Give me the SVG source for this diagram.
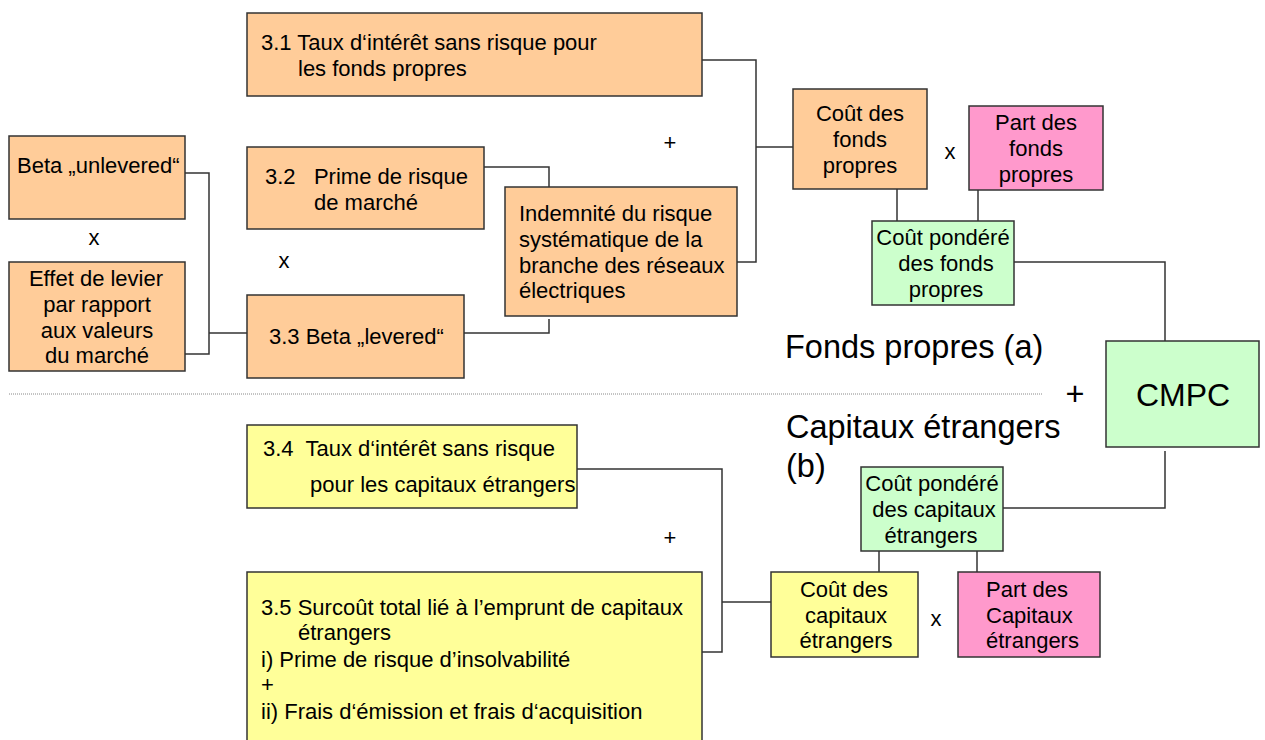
<svg xmlns="http://www.w3.org/2000/svg" width="1265" height="740" viewBox="0 0 1265 740">
<style>
  .b{stroke:#333;stroke-width:1.5}
  .or{fill:#FFCC99}.pk{fill:#FF99CC}.gr{fill:#CCFFCC}.ye{fill:#FFFF99}
  text{font-family:"Liberation Sans",Arial,sans-serif;font-size:22px;fill:#000}
  .c{text-anchor:middle}
  .big{font-size:32.5px}
  .cmpc{font-size:32px}
  .ln{fill:none;stroke:#333;stroke-width:1.5}
</style>
<rect width="1265" height="740" fill="#fff"/>
<g id="connectors" class="ln">
  <polyline points="185,173 209,173 209,354 185,354"/>
  <line x1="209" y1="333" x2="247" y2="333"/>
  <polyline points="484,167 549,167 549,187"/>
  <polyline points="464,333 549,333 549,319"/>
  <polyline points="702,60 756,60 756,262 737,262"/>
  <line x1="756" y1="147" x2="793" y2="147"/>
  <line x1="897" y1="189" x2="897" y2="221"/>
  <line x1="978" y1="190" x2="978" y2="221"/>
  <polyline points="1014,262 1165,262 1165,341"/>
  <polyline points="1165,451 1165,508 1003,508"/>
  <line x1="879" y1="551" x2="879" y2="572"/>
  <line x1="977" y1="551" x2="977" y2="572"/>
  <polyline points="577,469 722,469 722,652 702,652"/>
  <line x1="722" y1="602" x2="771" y2="602"/>
  <line x1="9" y1="394" x2="1043" y2="394" stroke="#888" stroke-width="1" stroke-dasharray="1 1"/>
</g>
<g id="n31"><rect class="b or" x="247" y="13" width="455" height="83"/>
  <text x="261" y="50">3.1 Taux d‘intérêt sans risque pour</text>
  <text x="298" y="76">les fonds propres</text></g>
<g id="beta-u"><rect class="b or" x="9" y="136" width="176" height="83"/>
  <text x="17" y="173">Beta „unlevered“</text></g>
<g id="levier"><rect class="b or" x="9" y="262" width="176" height="109"/>
  <text class="c" x="96" y="286">Effet de levier</text>
  <text class="c" x="97" y="312">par rapport</text>
  <text class="c" x="97" y="338">aux valeurs</text>
  <text class="c" x="97" y="363">du marché</text></g>
<g id="n32"><rect class="b or" x="247" y="147" width="237" height="82"/>
  <text x="265" y="184" xml:space="preserve">3.2   Prime de risque</text>
  <text x="314" y="210">de marché</text></g>
<g id="n33"><rect class="b or" x="247" y="295" width="217" height="83"/>
  <text x="269" y="344">3.3 Beta „levered“</text></g>
<g id="indemnite"><rect class="b or" x="505" y="187" width="232" height="129"/>
  <text x="519" y="221">Indemnité du risque</text>
  <text x="519" y="247">systématique de la</text>
  <text x="519" y="273">branche des réseaux</text>
  <text x="519" y="298">électriques</text></g>
<g id="cout-fp"><rect class="b or" x="793" y="89" width="134" height="100"/>
  <text class="c" x="860" y="121">Coût des</text>
  <text class="c" x="860" y="147">fonds</text>
  <text class="c" x="860" y="173">propres</text></g>
<g id="part-fp"><rect class="b pk" x="969" y="106" width="134" height="84"/>
  <text class="c" x="1036" y="130">Part des</text>
  <text class="c" x="1036" y="156">fonds</text>
  <text class="c" x="1036" y="182">propres</text></g>
<g id="cp-fp"><rect class="b gr" x="872" y="221" width="142" height="84"/>
  <text class="c" x="943" y="245">Coût pondéré</text>
  <text class="c" x="946" y="271">des fonds</text>
  <text class="c" x="946" y="297">propres</text></g>
<g id="cmpc"><rect class="b gr" x="1106" y="341" width="153" height="106"/>
  <text class="c cmpc" x="1183" y="406">CMPC</text></g>
<g id="cp-ce"><rect class="b gr" x="861" y="467" width="142" height="84"/>
  <text class="c" x="932" y="491">Coût pondéré</text>
  <text class="c" x="934" y="517">des capitaux</text>
  <text class="c" x="931" y="543">étrangers</text></g>
<g id="cout-ce"><rect class="b ye" x="771" y="572" width="147" height="85"/>
  <text class="c" x="844" y="597">Coût des</text>
  <text class="c" x="846" y="623">capitaux</text>
  <text class="c" x="846" y="648">étrangers</text></g>
<g id="part-ce"><rect class="b pk" x="958" y="572" width="142" height="85"/>
  <text x="986" y="597">Part des</text>
  <text x="986" y="623">Capitaux</text>
  <text x="986" y="648">étrangers</text></g>
<g id="n34"><rect class="b ye" x="247" y="425" width="330" height="83"/>
  <text x="263" y="456" xml:space="preserve">3.4  Taux d‘intérêt sans risque</text>
  <text x="310" y="492">pour les capitaux étrangers</text></g>
<g id="n35"><rect class="b ye" x="247" y="572" width="455" height="180"/>
  <text x="261" y="615">3.5 Surcoût total lié à l’emprunt de capitaux</text>
  <text x="298" y="640">étrangers</text>
  <text x="261" y="667">i) Prime de risque d’insolvabilité</text>
  <text x="261" y="692">+</text>
  <text x="261" y="719">ii) Frais d‘émission et frais d‘acquisition</text></g>
<g id="labels">
  <text class="c" x="670" y="150">+</text>
  <text class="c" x="94" y="245">x</text>
  <text class="c" x="284" y="268">x</text>
  <text class="c" x="950" y="159">x</text>
  <text class="c" x="670" y="545">+</text>
  <text class="c" x="936" y="626">x</text>
  <text class="big" x="785" y="358">Fonds propres (a)</text>
  <text class="big c" x="1075" y="405">+</text>
  <text class="big" x="786" y="438">Capitaux étrangers</text>
  <text class="big" x="786" y="477">(b)</text>
</g>
</svg>
